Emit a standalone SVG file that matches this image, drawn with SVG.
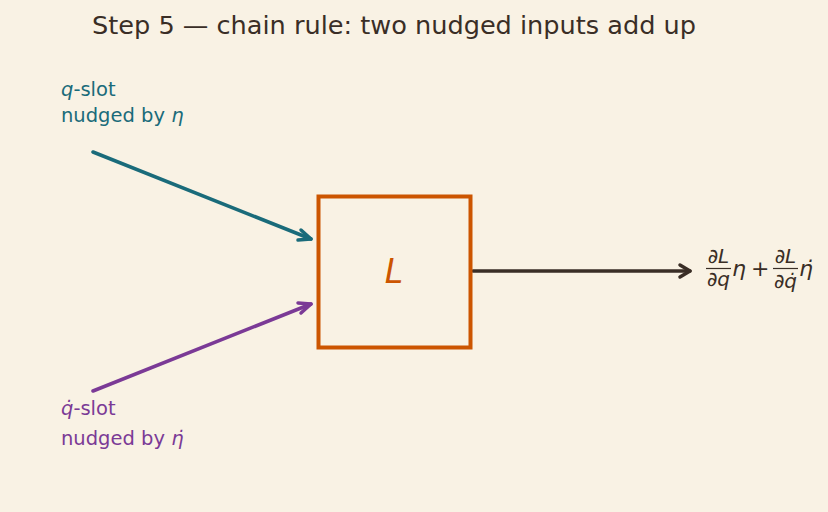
<svg xmlns="http://www.w3.org/2000/svg" width="828" height="512" viewBox="0 0 828 512">
<defs>
<style>
.t{font-family:"DejaVu Sans","Noto Sans",sans-serif;}
.title{font-family:"DejaVu Sans",sans-serif;font-size:24px;fill:#3a2e26;}
.lab{font-size:19.5px;}
.m{font-family:"DejaVu Sans",sans-serif;font-size:22px;fill:#3a2e26;}
.i{font-style:italic;}
</style>
</defs>
<rect width="828" height="512" fill="#f9f2e4"/>
<text class="title" x="394" y="34" text-anchor="middle" textLength="604" lengthAdjust="spacingAndGlyphs">Step 5 — chain rule: two nudged inputs add up</text>

<g id="connectors" fill="none" stroke-width="3.5" stroke-linecap="round">
<path d="M93,152 L311,239" stroke="#1a6b7a"/>
<path d="M301,230 L311,239 L298,240" stroke="#1a6b7a" stroke-linejoin="round"/>
<path d="M93,391 L311,304" stroke="#7b3a96"/>
<path d="M298,303 L311,304 L301,313" stroke="#7b3a96" stroke-linejoin="round"/>
<path d="M473,271 L690,271" stroke="#3a2e26"/>
<path d="M680,265 L690,271 L680,277" stroke="#3a2e26" stroke-linejoin="round"/>
</g>

<g id="node-L">
<rect x="318.5" y="196.5" width="152" height="151" fill="none" stroke="#cc5500" stroke-width="4"/>
<text class="t i" x="394" y="283" font-size="33" fill="#cc5500" text-anchor="middle">L</text>
</g>

<g id="label-q" class="t lab" fill="#1a6b7a">
<text x="61" y="96"><tspan class="i">q</tspan>-slot</text>
<text x="61" y="122">nudged by <tspan class="i">η</tspan></text>
</g>

<g id="label-qdot" class="t lab" fill="#7b3a96">
<text x="61" y="415"><tspan class="i">q̇</tspan>-slot</text>
<text x="61" y="445">nudged by <tspan class="i">η̇</tspan></text>
</g>

<g id="output" class="m">
<text x="718.5" y="263" text-anchor="middle" font-size="20">∂<tspan class="i">L</tspan></text>
<line x1="706" y1="268.5" x2="731" y2="268.5" stroke="#3a2e26" stroke-width="1.2"/>
<text x="718.5" y="286" text-anchor="middle" font-size="20">∂<tspan class="i">q</tspan></text>
<text x="732" y="276" class="i">η</text>
<text x="751" y="276">+</text>
<text x="785.5" y="263" text-anchor="middle" font-size="20">∂<tspan class="i">L</tspan></text>
<line x1="773" y1="268.5" x2="798" y2="268.5" stroke="#3a2e26" stroke-width="1.2"/>
<text x="785.5" y="288" text-anchor="middle" font-size="20">∂<tspan class="i">q̇</tspan></text>
<text x="799" y="276" class="i">η̇</text>
</g>
</svg>
